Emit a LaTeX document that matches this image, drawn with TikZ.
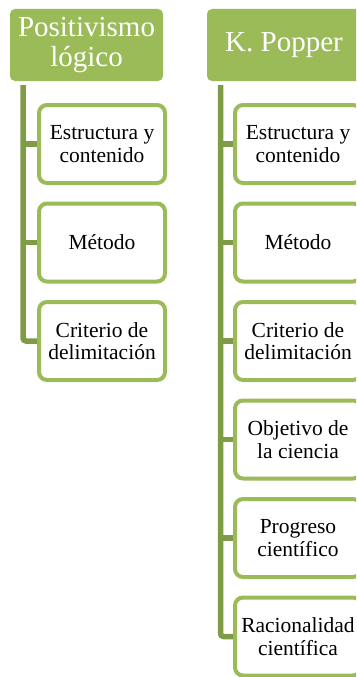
\documentclass[tikz,border=0pt]{standalone}
\usepackage{fontspec}
\setmainfont{Liberation Serif}
\usetikzlibrary{positioning}
\definecolor{olive}{HTML}{9BBB59}
\definecolor{olivedark}{HTML}{7E9C46}

\begin{document}
\begin{tikzpicture}[
  x=1pt, y=1pt,
  node distance=16.5pt,
  head/.style={rectangle, fill=olive, rounded corners=5pt, minimum width=153pt, minimum height=72pt, inner sep=0pt, outer sep=0pt, align=center, text=white, font=\rmfamily\fontsize{29}{30}\selectfont},
  item/.style={rectangle, draw=olive, line width=4pt, fill=white, rounded corners=8pt, minimum width=126pt, minimum height=78pt, inner sep=0pt, align=center, font=\rmfamily\fontsize{21.5}{22.5}\selectfont},
  conn/.style={draw=olivedark, line width=5.5pt, rounded corners=3pt},
]
\useasboundingbox (0,0) rectangle (356,-677);
\clip (0,0) rectangle (356,-677);

% Positivismo logico
\node[head] (posit) at (86.5,-45) {Positivismo\\lógico};
\node[item] (posEstr) at (102,-144) {Estructura y\\contenido};
\node[item, below=of posEstr] (posMet) {Método};
\node[item, below=of posMet] (posCrit) {Criterio de\\delimitación};

% K. Popper
\node[head, minimum width=154pt] (popper) at (284,-45) {K. Popper};
\node[item] (popEstr) at (298,-144) {Estructura y\\contenido};
\node[item, below=of popEstr] (popMet) {Método};
\node[item, below=of popMet] (popCrit) {Criterio de\\delimitación};
\node[item, below=of popCrit] (popObj) {Objetivo de\\la ciencia};
\node[item, below=of popObj] (popProg) {Progreso\\científico};
\node[item, below=of popProg] (popRac) {Racionalidad\\científica};

% Connectors - left
\coordinate (posTop) at ([xshift=13pt,yshift=-4pt]posit.south west);
\draw[conn] (posTop) |- (posCrit.west);
\draw[conn] (posTop |- posEstr.west) -- (posEstr.west);
\draw[conn] (posTop |- posMet.west) -- (posMet.west);

% Connectors - right
\coordinate (popTop) at ([xshift=13.5pt,yshift=-4pt]popper.south west);
\draw[conn] (popTop) |- (popRac.west);
\draw[conn] (popTop |- popEstr.west) -- (popEstr.west);
\draw[conn] (popTop |- popMet.west) -- (popMet.west);
\draw[conn] (popTop |- popCrit.west) -- (popCrit.west);
\draw[conn] (popTop |- popObj.west) -- (popObj.west);
\draw[conn] (popTop |- popProg.west) -- (popProg.west);
\end{tikzpicture}
\end{document}
